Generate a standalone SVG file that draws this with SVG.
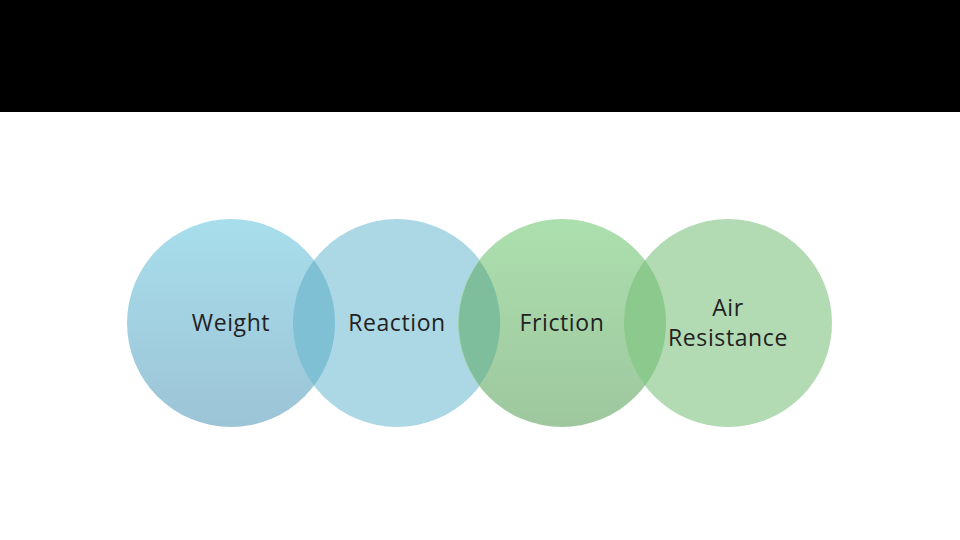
<svg xmlns="http://www.w3.org/2000/svg" width="960" height="540" viewBox="0 0 960 540">
<defs>
<linearGradient id="g1" x1="0" y1="0" x2="0" y2="1"><stop offset="0" stop-color="#a8deec"/><stop offset="1" stop-color="#9cc4d6"/></linearGradient>
<linearGradient id="g3" x1="0" y1="0" x2="0" y2="1"><stop offset="0" stop-color="#acdfae"/><stop offset="1" stop-color="#9ec79e"/></linearGradient>
<style>
text{font-family:"Open Sans","Liberation Sans",sans-serif;font-size:23px;letter-spacing:0.6px;fill:#222;text-anchor:middle}
</style>
</defs>
<rect width="960" height="540" fill="#fff"/>
<rect width="960" height="112" fill="#000"/>
<g id="n1"><circle cx="231" cy="323" r="104" fill="url(#g1)"/></g>
<g id="n2"><circle cx="397" cy="323" r="104" fill="#acd8e6"/></g>
<g id="n3"><circle cx="562" cy="323" r="104" fill="url(#g3)"/></g>
<g id="n4"><circle cx="728" cy="323" r="104" fill="#b2daB3"/></g>
<g id="overlaps">
<path d="M314,260.3 A104 104 0 0 1 314 385.7 A104 104 0 0 1 314 260.3Z" fill="#80c0d4"/>
<path d="M479.5,260.8 A104 104 0 0 1 479.5 385.2 A104 104 0 0 1 479.5 260.8Z" fill="#7ebe9c"/>
<path d="M645,260.3 A104 104 0 0 1 645 385.7 A104 104 0 0 1 645 260.3Z" fill="#8cc98c"/>
</g>
<g id="labels">
<text x="231" y="331">Weight</text>
<text x="397" y="331">Reaction</text>
<text x="562" y="331">Friction</text>
<text x="728" y="316">Air</text>
<text x="728" y="346">Resistance</text>
</g>
<g id="connectors"/>
</svg>
